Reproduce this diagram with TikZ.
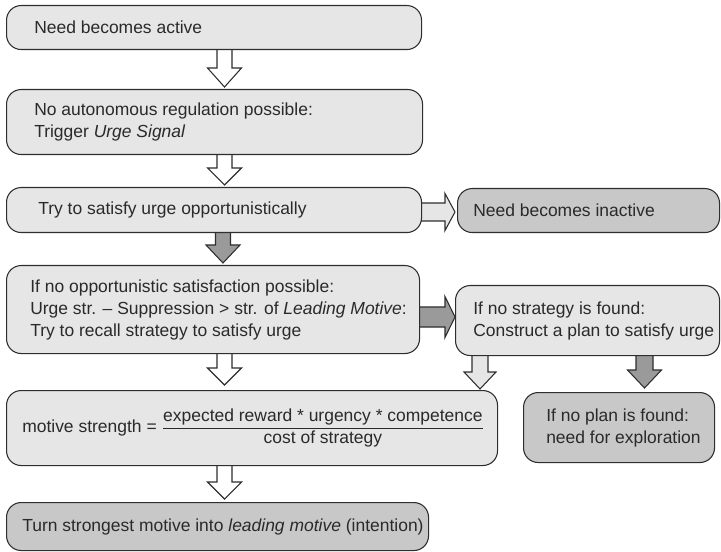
\documentclass[tikz,border=0pt]{standalone}
\usepackage{fontspec}
\setmainfont{Liberation Sans}
\usetikzlibrary{calc}
\pgfdeclarelayer{background}
\pgfsetlayers{background,main}

\definecolor{boxlight}{HTML}{E6E6E7}
\definecolor{boxdark}{HTML}{C8C8C8}
\definecolor{arrowdark}{HTML}{9A9A9A}
\definecolor{edge}{HTML}{2E2E2E}
\definecolor{ink}{HTML}{2A2A2A}

% one drawing unit = one pixel
\def\px{0.75pt}

\tikzset{
  flowbox/.style={draw=edge, line width=0.8pt, rounded corners=11pt,
    anchor=north west, inner sep=0pt},
  lightbox/.style={flowbox, fill=boxlight},
  darkbox/.style={flowbox, fill=boxdark},
  boxtext/.style={anchor=west, inner sep=0pt, align=left, text=ink,
    font=\fontsize{13.1}{16.5}\selectfont},
  blockarrow/.style={draw=edge, line width=0.8pt, line join=miter},
  hollowarrow/.style={blockarrow, fill=white},
  greyarrow/.style={blockarrow, fill=boxlight},
  darkarrow/.style={blockarrow, fill=arrowdark},
}

% block arrow pointing down: style, from, to, centre x, half shaft, half head, head length, gap
\newcommand\blockdown[8]{%
  \path[#1] let \p1=(#2.south), \p2=(#3.north) in
    ({(#4-#5)*\px},{\y1+3*\px}) -- ({(#4-#5)*\px},{\y2+(#7+#8)*\px})
    -- ({(#4-#6)*\px},{\y2+(#7+#8)*\px}) -- ({#4*\px},{\y2+#8*\px})
    -- ({(#4+#6)*\px},{\y2+(#7+#8)*\px}) -- ({(#4+#5)*\px},{\y2+(#7+#8)*\px})
    -- ({(#4+#5)*\px},{\y1+3*\px}) -- cycle;}

% block arrow pointing right: style, from, to, centre y, half shaft, half head, head length, gap
\newcommand\blockright[8]{%
  \path[#1] let \p1=(#2.east), \p2=(#3.west) in
    ({\x1-3*\px},{-(#4-#5)*\px}) -- ({\x2-(#7+#8)*\px},{-(#4-#5)*\px})
    -- ({\x2-(#7+#8)*\px},{-(#4-#6)*\px}) -- ({\x2-#8*\px},{-#4*\px})
    -- ({\x2-(#7+#8)*\px},{-(#4+#6)*\px}) -- ({\x2-(#7+#8)*\px},{-(#4+#5)*\px})
    -- ({\x1-3*\px},{-(#4+#5)*\px}) -- cycle;}

\begin{document}
\begin{tikzpicture}[x=0.75pt, y=-0.75pt]
  \useasboundingbox (0,0) rectangle (721,552);

  % boxes
  \node[lightbox, minimum width=415*\px, minimum height=44*\px] (b1) at (6,5) {};
  \node[lightbox, minimum width=416*\px, minimum height=65*\px] (b2) at (6,89) {};
  \node[lightbox, minimum width=415*\px, minimum height=45*\px] (b3) at (6,187) {};
  \node[darkbox,  minimum width=262*\px, minimum height=44*\px] (inact) at (457,188) {};
  \node[lightbox, minimum width=413*\px, minimum height=88*\px] (b4) at (6,265) {};
  \node[lightbox, minimum width=264*\px, minimum height=70*\px] (strat) at (455,285) {};
  \node[lightbox, minimum width=491*\px, minimum height=75*\px] (b5) at (6,390) {};
  \node[darkbox,  minimum width=191*\px, minimum height=70*\px] (plan) at (523,392) {};
  \node[darkbox,  minimum width=422*\px, minimum height=48*\px] (b6) at (6,502) {};

  % texts
  \node[boxtext] (t1) at ([xshift=28*\px]b1.west) {Need becomes active};
  \node[boxtext] (t2) at ([xshift=28*\px]b2.west)
    {No autonomous regulation possible:\\Trigger \textit{Urge Signal}};
  \node[boxtext] (t3) at ([xshift=32*\px]b3.west) {Try to satisfy urge opportunistically};
  \node[boxtext] (tinact) at ([xshift=16*\px]inact.west) {Need becomes inactive};
  \node[boxtext] (t4) at ([xshift=24*\px]b4.west)
    {If no opportunistic satisfaction possible:\\
     Urge str. – Suppression > str. of \textit{Leading Motive}:\\
     Try to recall strategy to satisfy urge};
  \node[boxtext] (tstrat) at ([xshift=18*\px]strat.west)
    {If no strategy is found:\\Construct a plan to satisfy urge};
  \node[boxtext] (t5) at ([xshift=16*\px]b5.west)
    {motive strength = $\displaystyle\frac{\mbox{expected reward * urgency * competence}}{\mbox{cost of strategy}}$};
  \node[boxtext] (tplan) at ([xshift=23*\px]plan.west)
    {If no plan is found:\\need for exploration};
  \node[boxtext] (t6) at ([xshift=16*\px]b6.west)
    {Turn strongest motive into \textit{leading motive} (intention)};

  % block arrows
  \begin{pgfonlayer}{background}
    \blockdown{hollowarrow}{b1}{b2}{224.5}{7.5}{17}{19}{2}
    \blockdown{hollowarrow}{b2}{b3}{224.5}{7.5}{17}{17}{2}
    \blockdown{darkarrow}{b3}{b4}{223}{7.5}{17}{18}{2}
    \blockdown{hollowarrow}{b4}{b5}{224.5}{7.5}{17}{17}{5}
    \blockdown{hollowarrow}{b5}{b6}{224.5}{7.5}{17}{17}{3}
    \blockdown{greyarrow}{strat}{b5}{480}{8}{16}{17}{1}
    \blockdown{darkarrow}{strat}{plan}{644.5}{8.5}{17}{18}{4}
    \blockright{greyarrow}{b3}{inact}{212}{9}{18.5}{10}{2}
    \blockright{darkarrow}{b4}{strat}{317}{10}{20.5}{10}{0}
  \end{pgfonlayer}
\end{tikzpicture}
\end{document}
